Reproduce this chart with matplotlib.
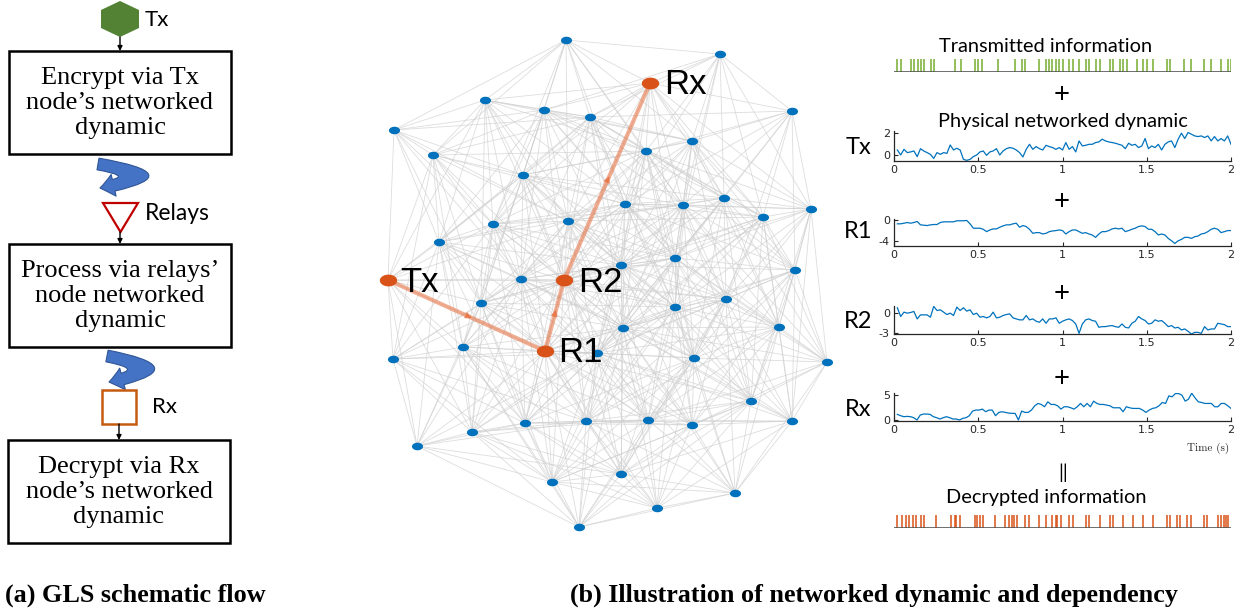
import numpy as np
import matplotlib.pyplot as plt
from matplotlib.path import Path
from matplotlib.patches import Rectangle, Polygon, FancyArrowPatch
from matplotlib.collections import LineCollection

plt.rcParams['axes.unicode_minus'] = False

W, H = 1244, 614

# network nodes (pixel positions)
node_x = [566, 720, 485, 544, 590, 792, 394, 433, 646, 692, 523, 625, 683, 724, 763,
          811, 493, 568, 439, 621, 675, 795, 521, 481, 726, 675, 623, 779, 463, 393,
          597, 694, 827, 751, 525, 586, 648, 692, 792, 472, 417, 552, 621, 735, 657, 579]
node_y = [40, 54, 100, 110, 117, 111, 130, 155, 151, 141, 175, 204, 205, 198, 217,
          209, 224, 221, 242, 265, 258, 270, 279, 303, 299, 307, 328, 327, 347, 359,
          353, 358, 362, 401, 423, 421, 420, 425, 421, 432, 446, 482, 474, 493, 508, 527]
path_names = ['Tx', 'R1', 'R2', 'Rx']
path_x = [388, 545, 564, 650]
path_y = [280, 351, 280, 83]

# spike trains (s)
sent_times = [0.02, 0.04, 0.10, 0.12, 0.14, 0.16, 0.18, 0.22, 0.24, 0.36, 0.40, 0.48, 0.50,
              0.52, 0.62, 0.72, 0.76, 0.78, 0.86, 0.90, 0.92, 0.94, 0.96, 0.98, 1.00, 1.04,
              1.06, 1.10, 1.14, 1.16, 1.20, 1.22, 1.28, 1.30, 1.34, 1.36, 1.38, 1.44, 1.48,
              1.50, 1.54, 1.62, 1.64, 1.72, 1.76, 1.84, 1.88, 1.94, 1.98, 2.00]
dec_times = [0.02, 0.05, 0.07, 0.09, 0.11, 0.13, 0.16, 0.18, 0.25, 0.34, 0.36, 0.37, 0.39,
             0.48, 0.49, 0.51, 0.53, 0.60, 0.66, 0.68, 0.70, 0.71, 0.73, 0.78, 0.80, 0.86,
             0.90, 0.94, 0.96, 0.97, 0.99, 1.04, 1.06, 1.14, 1.16, 1.22, 1.28, 1.30, 1.36,
             1.42, 1.48, 1.54, 1.62, 1.64, 1.68, 1.70, 1.74, 1.76, 1.84, 1.86, 1.92, 1.94,
             1.96, 1.97, 1.98]

# node dynamics
tx_vals = [0.46, 0.00, 0.52, 0.22, 0.28, 0.37, -0.15, 0.58, 0.37, 0.22, 0.06, -0.31, 0.22,
           0.06, 0.22, 0.15, 0.92, 0.46, 0.62, 0.46, -0.40, -0.49, -0.40, -0.15, 0.00, 0.28,
           0.37, -0.03, 0.28, 0.37, 0.58, 0.00, 0.37, 0.58, 0.68, 0.62, 0.46, 0.22, -0.18,
           0.52, 0.98, 0.52, 0.77, 0.58, 0.46, 0.89, 0.77, 0.68, 0.52, 0.68, 0.46, 1.14,
           0.52, 0.77, 0.28, 1.29, 0.83, 0.89, 0.98, 0.98, 1.14, 1.20, 1.45, 1.29, 1.20,
           1.14, 1.08, 0.98, 0.89, 0.58, 1.08, 0.89, 0.98, 0.68, 0.83, 1.51, 0.58, 0.83,
           0.68, 0.98, 0.46, 0.98, 1.20, 1.29, 0.68, 1.45, 2.00, 1.51, 2.06, 1.91, 1.75,
           1.69, 1.75, 1.60, 1.75, 1.29, 1.69, 1.29, 1.51, 1.29, 1.75, 0.98]
r1_vals = [-0.77, -0.77, -0.65, -0.52, -0.65, -0.52, -0.32, -0.97, -1.03, -1.10, -0.97,
           -0.90, -0.90, -0.52, -0.39, -0.39, -0.39, -0.39, -0.19, -0.19, -0.19, -0.13,
           -0.77, -1.61, -1.61, -1.61, -1.81, -2.26, -1.94, -1.74, -1.74, -1.42, -1.16,
           -0.97, -0.97, -0.77, -0.65, -1.42, -1.10, -1.29, -1.81, -2.58, -2.45, -2.45,
           -2.71, -2.58, -2.26, -2.13, -2.06, -1.94, -2.06, -2.71, -2.26, -1.94, -1.94,
           -2.26, -2.58, -2.45, -2.71, -2.90, -3.35, -2.71, -2.26, -2.26, -2.06, -1.74,
           -1.61, -1.74, -1.61, -2.26, -2.06, -1.81, -1.61, -1.29, -1.16, -1.29, -1.81,
           -1.81, -2.26, -2.90, -2.71, -2.90, -3.55, -4.00, -4.52, -4.00, -3.74, -3.35,
           -3.35, -3.55, -3.23, -3.10, -2.71, -2.58, -2.26, -1.81, -1.61, -1.81, -2.45,
           -2.26, -2.06, -2.06]
r2_vals = [0.74, -0.54, 0.10, -0.05, 0.05, 0.20, -0.89, -0.30, -0.30, -0.30, -0.64, 0.94,
           0.34, 0.44, 0.10, -0.25, -0.05, -0.39, 0.84, 0.34, 0.74, 0.25, 0.44, -0.25,
           -0.05, -0.64, -0.54, -0.74, -0.54, 0.10, -0.74, -0.64, -0.39, -0.25, -0.15,
           -0.74, -0.89, -1.03, -1.03, -0.39, -1.03, -0.89, -1.23, -1.38, -0.89, -1.53,
           -0.89, -0.89, -0.74, -1.53, -1.23, -1.03, -0.89, -1.13, -1.63, -3.00, -1.63,
           -1.03, -0.89, -1.13, -1.23, -2.12, -2.02, -2.02, -1.92, -1.87, -2.02, -2.12,
           -1.63, -2.12, -2.22, -1.53, -1.23, -0.54, -0.89, -1.13, -1.63, -1.53, -1.03,
           -1.23, -1.13, -1.53, -2.02, -1.87, -2.22, -2.12, -2.51, -2.36, -2.71, -3.10,
           -2.86, -2.86, -3.00, -2.02, -2.51, -2.36, -2.36, -1.53, -1.63, -1.73, -2.02, -2.02]
rx_vals = [1.10, 0.84, 0.65, 0.71, 0.65, 0.45, 0.00, 0.97, 1.17, 1.17, 1.10, 0.65, 0.45,
           0.19, 0.45, 0.65, 0.45, 0.19, 0.19, 0.00, 0.32, 0.45, 0.84, 1.75, 1.95, 1.95,
           2.14, 1.62, 1.95, 1.95, 0.84, 1.49, 1.62, 1.49, 1.36, 1.30, 1.30, 0.00, 1.75,
           1.49, 1.49, 1.95, 2.79, 3.25, 3.05, 2.60, 3.57, 3.05, 3.05, 2.79, 2.14, 2.60,
           2.60, 2.40, 2.14, 2.60, 3.25, 2.60, 3.25, 2.60, 3.70, 3.25, 3.05, 3.05, 2.92,
           2.79, 2.40, 2.40, 2.40, 1.62, 2.60, 2.40, 2.27, 2.27, 2.27, 1.95, 1.49, 1.95,
           2.27, 2.40, 2.79, 3.44, 3.25, 4.74, 4.55, 5.19, 5.19, 4.87, 3.70, 4.09, 5.26,
           4.35, 3.57, 3.44, 3.25, 3.25, 3.25, 2.60, 2.60, 3.25, 3.25, 2.79, 2.27]

blue = '#0072BD'
orange = '#D95319'
sans = ['Lato', 'DejaVu Sans']
serif = ['Liberation Serif', 'DejaVu Serif']

fig = plt.figure(figsize=(W / 100, H / 100), dpi=100)
ax0 = fig.add_axes([0, 0, 1, 1])
ax0.set_xlim(0, W)
ax0.set_ylim(H, 0)
ax0.axis('off')

# ---- (a) flow chart ----
ax0.add_patch(Polygon([(120, 1), (139, 10), (139, 28), (120, 37), (101, 28), (101, 10)],
                      fc='#548235', ec='none'))
ax0.text(145, 20, 'Tx', fontsize=16, family=sans, va='center')


def down_arrow(x, y0, y1):
    ax0.annotate('', xy=(x, y1), xytext=(x, y0),
                 arrowprops=dict(arrowstyle='-|>', color='black', lw=1, mutation_scale=7,
                                 shrinkA=0, shrinkB=0))


def box(x, y, text):
    ax0.add_patch(Rectangle((x, y), 222, 103, fill=False, ec='black', lw=1.8))
    ax0.text(x + 111, y + 52, text, ha='center', va='center', family=serif,
             fontsize=19, linespacing=1.15)


def turn_arrow(x0, y0, cx, y1):
    p = Path([(x0, y0), (cx, (y0 + y1) / 2), (x0 + 2, y1)],
             [Path.MOVETO, Path.CURVE3, Path.CURVE3])
    ax0.add_patch(FancyArrowPatch(path=p, arrowstyle='simple,tail_width=0.85,head_width=1.6,head_length=1.0',
                                  mutation_scale=10, fc='#4472C4', ec='#2F5597', lw=0.8))


down_arrow(120, 37, 51)
box(9, 51, 'Encrypt via Tx\nnode\u2019s networked\ndynamic')
turn_arrow(98, 164, 168, 188)

ax0.add_patch(Polygon([(103, 203), (138, 203), (120.5, 232)], fc='white', ec='#C00000', lw=1.6))
ax0.text(145, 214, 'Relays', fontsize=16.5, family=sans, va='center')
down_arrow(120, 232, 244)
box(9, 244, 'Process via relays\u2019\nnode networked\ndynamic')
turn_arrow(107, 356, 174, 382)

ax0.add_patch(Rectangle((102, 390), 34, 34, fc='white', ec='#C55A11', lw=1.8))
ax0.text(152, 407, 'Rx', fontsize=16, family=sans, va='center')
down_arrow(119, 424, 440)
box(8, 440, 'Decrypt via Rx\nnode\u2019s networked\ndynamic')

ax0.text(5, 595, '(a) GLS schematic flow', family=serif, fontweight='bold', fontsize=18.8,
         va='center')
ax0.text(570, 595, '(b) Illustration of networked dynamic and dependency', family=serif,
         fontweight='bold', fontsize=18.8, va='center')

# ---- (b) network ----
all_x = np.array(node_x + path_x, dtype=float)
all_y = np.array(node_y + path_y, dtype=float)
segs = []
for i in range(len(all_x)):
    for j in range(i + 1, len(all_x)):
        if np.hypot(all_x[i] - all_x[j], all_y[i] - all_y[j]) < 215:
            segs.append([(all_x[i], all_y[i]), (all_x[j], all_y[j])])
ax0.add_collection(LineCollection(segs, colors='#cfcfcf', linewidths=0.6, alpha=0.7, zorder=1))

for k in range(len(path_x) - 1):
    xa, ya, xb, yb = path_x[k], path_y[k], path_x[k + 1], path_y[k + 1]
    ax0.plot([xa, xb], [ya, yb], color='#E8784A', alpha=0.6, lw=3, solid_capstyle='round', zorder=2)
    mx, my = (xa + xb) / 2, (ya + yb) / 2
    d = np.hypot(xb - xa, yb - ya)
    ax0.annotate('', xy=(mx + 6 * (xb - xa) / d, my + 6 * (yb - ya) / d), xytext=(mx, my),
                 arrowprops=dict(arrowstyle='-|>', color='#E8784A', alpha=0.8, lw=1,
                                 mutation_scale=9, shrinkA=0, shrinkB=0), zorder=2)

t_ell = np.linspace(0, 2 * np.pi, 40)
ell = Path(np.column_stack([np.cos(t_ell), 0.68 * np.sin(t_ell)]), closed=True)
ax0.plot(node_x, node_y, ls='none', marker=ell, ms=8, color=blue, mew=0, zorder=3)
ax0.plot(path_x, path_y, ls='none', marker=ell, ms=12.5, color=orange, mew=0, zorder=3)
label_dx = [12, 13, 14, 14]
for nm, x, y, dx in zip(path_names, path_x, path_y, label_dx):
    ax0.text(x + dx, y + 2, nm, fontsize=25, family=['Liberation Sans', 'DejaVu Sans'],
             va='center', ha='left', zorder=4)

# ---- (b) time series ----


def px_axes(x0, y0, x1, y1):
    return fig.add_axes([x0 / W, 1 - y1 / H, (x1 - x0) / W, (y1 - y0) / H])


def spikes(y0, y1, times, color):
    ax = px_axes(894, y0, 1231, y1)
    ax.vlines(times, 0, 1, color=color, lw=1.1)
    ax.axhline(0, color='#555555', lw=1.2)
    ax.set_xlim(0, 2)
    ax.set_ylim(0, 1.02)
    ax.axis('off')


def series(y0, y1, vals, ylim, yticks, name, name_y):
    ax = px_axes(894, y0, 1231, y1)
    t = np.linspace(0.02, 2, len(vals))
    ax.plot(t, vals, color=blue, lw=0.9)
    ax.set_xlim(0, 2)
    ax.set_ylim(*ylim)
    ax.set_yticks(yticks)
    ax.set_xticks([0, 0.5, 1, 1.5, 2])
    ax.set_xticklabels(['0', '0.5', '1', '1.5', '2'])
    for s in ['top', 'right']:
        ax.spines[s].set_visible(False)
    for s in ['left', 'bottom']:
        ax.spines[s].set_color('#262626')
        ax.spines[s].set_linewidth(0.9)
    ax.tick_params(direction='in', length=3, width=0.8, labelsize=8, colors='#262626', pad=3)
    ax.patch.set_alpha(0)
    ax0.text(858, name_y, name, fontsize=17, family=sans, ha='center', va='center')
    return ax


ax0.text(1046, 46, 'Transmitted information', fontsize=14.4, family=sans, ha='center', va='center')
spikes(59, 72, sent_times, '#77AC30')
ax0.text(1062, 95, '+', fontsize=20, family=sans, ha='center', va='center')
ax0.text(1063, 121, 'Physical networked dynamic', fontsize=14.4, family=sans, ha='center',
         va='center')
series(131, 161, tx_vals, (-0.55, 2.2), [0, 2], 'Tx', 148)
ax0.text(1062, 202, '+', fontsize=20, family=sans, ha='center', va='center')
series(219, 246, r1_vals, (-5.0, 0.15), [-4, 0], 'R1', 232)
ax0.text(1062, 294, '+', fontsize=20, family=sans, ha='center', va='center')
series(306, 334, r2_vals, (-3.1, 1.0), [-3, 0], 'R2', 321)
ax0.text(1062, 379, '+', fontsize=20, family=sans, ha='center', va='center')
series(393, 420.5, rx_vals, (-0.1, 5.3), [0, 5], 'Rx', 410)
ax0.text(1229, 448, 'Time (s)', family='cmr10', fontsize=8, ha='right', va='center',
         color='#262626')
ax0.text(1063, 473, '||', fontsize=14, family=sans, ha='center', va='center')
ax0.text(1046, 497, 'Decrypted information', fontsize=14.4, family=sans, ha='center', va='center')
spikes(515, 528, dec_times, orange)

fig.savefig('out.png', dpi=100)
